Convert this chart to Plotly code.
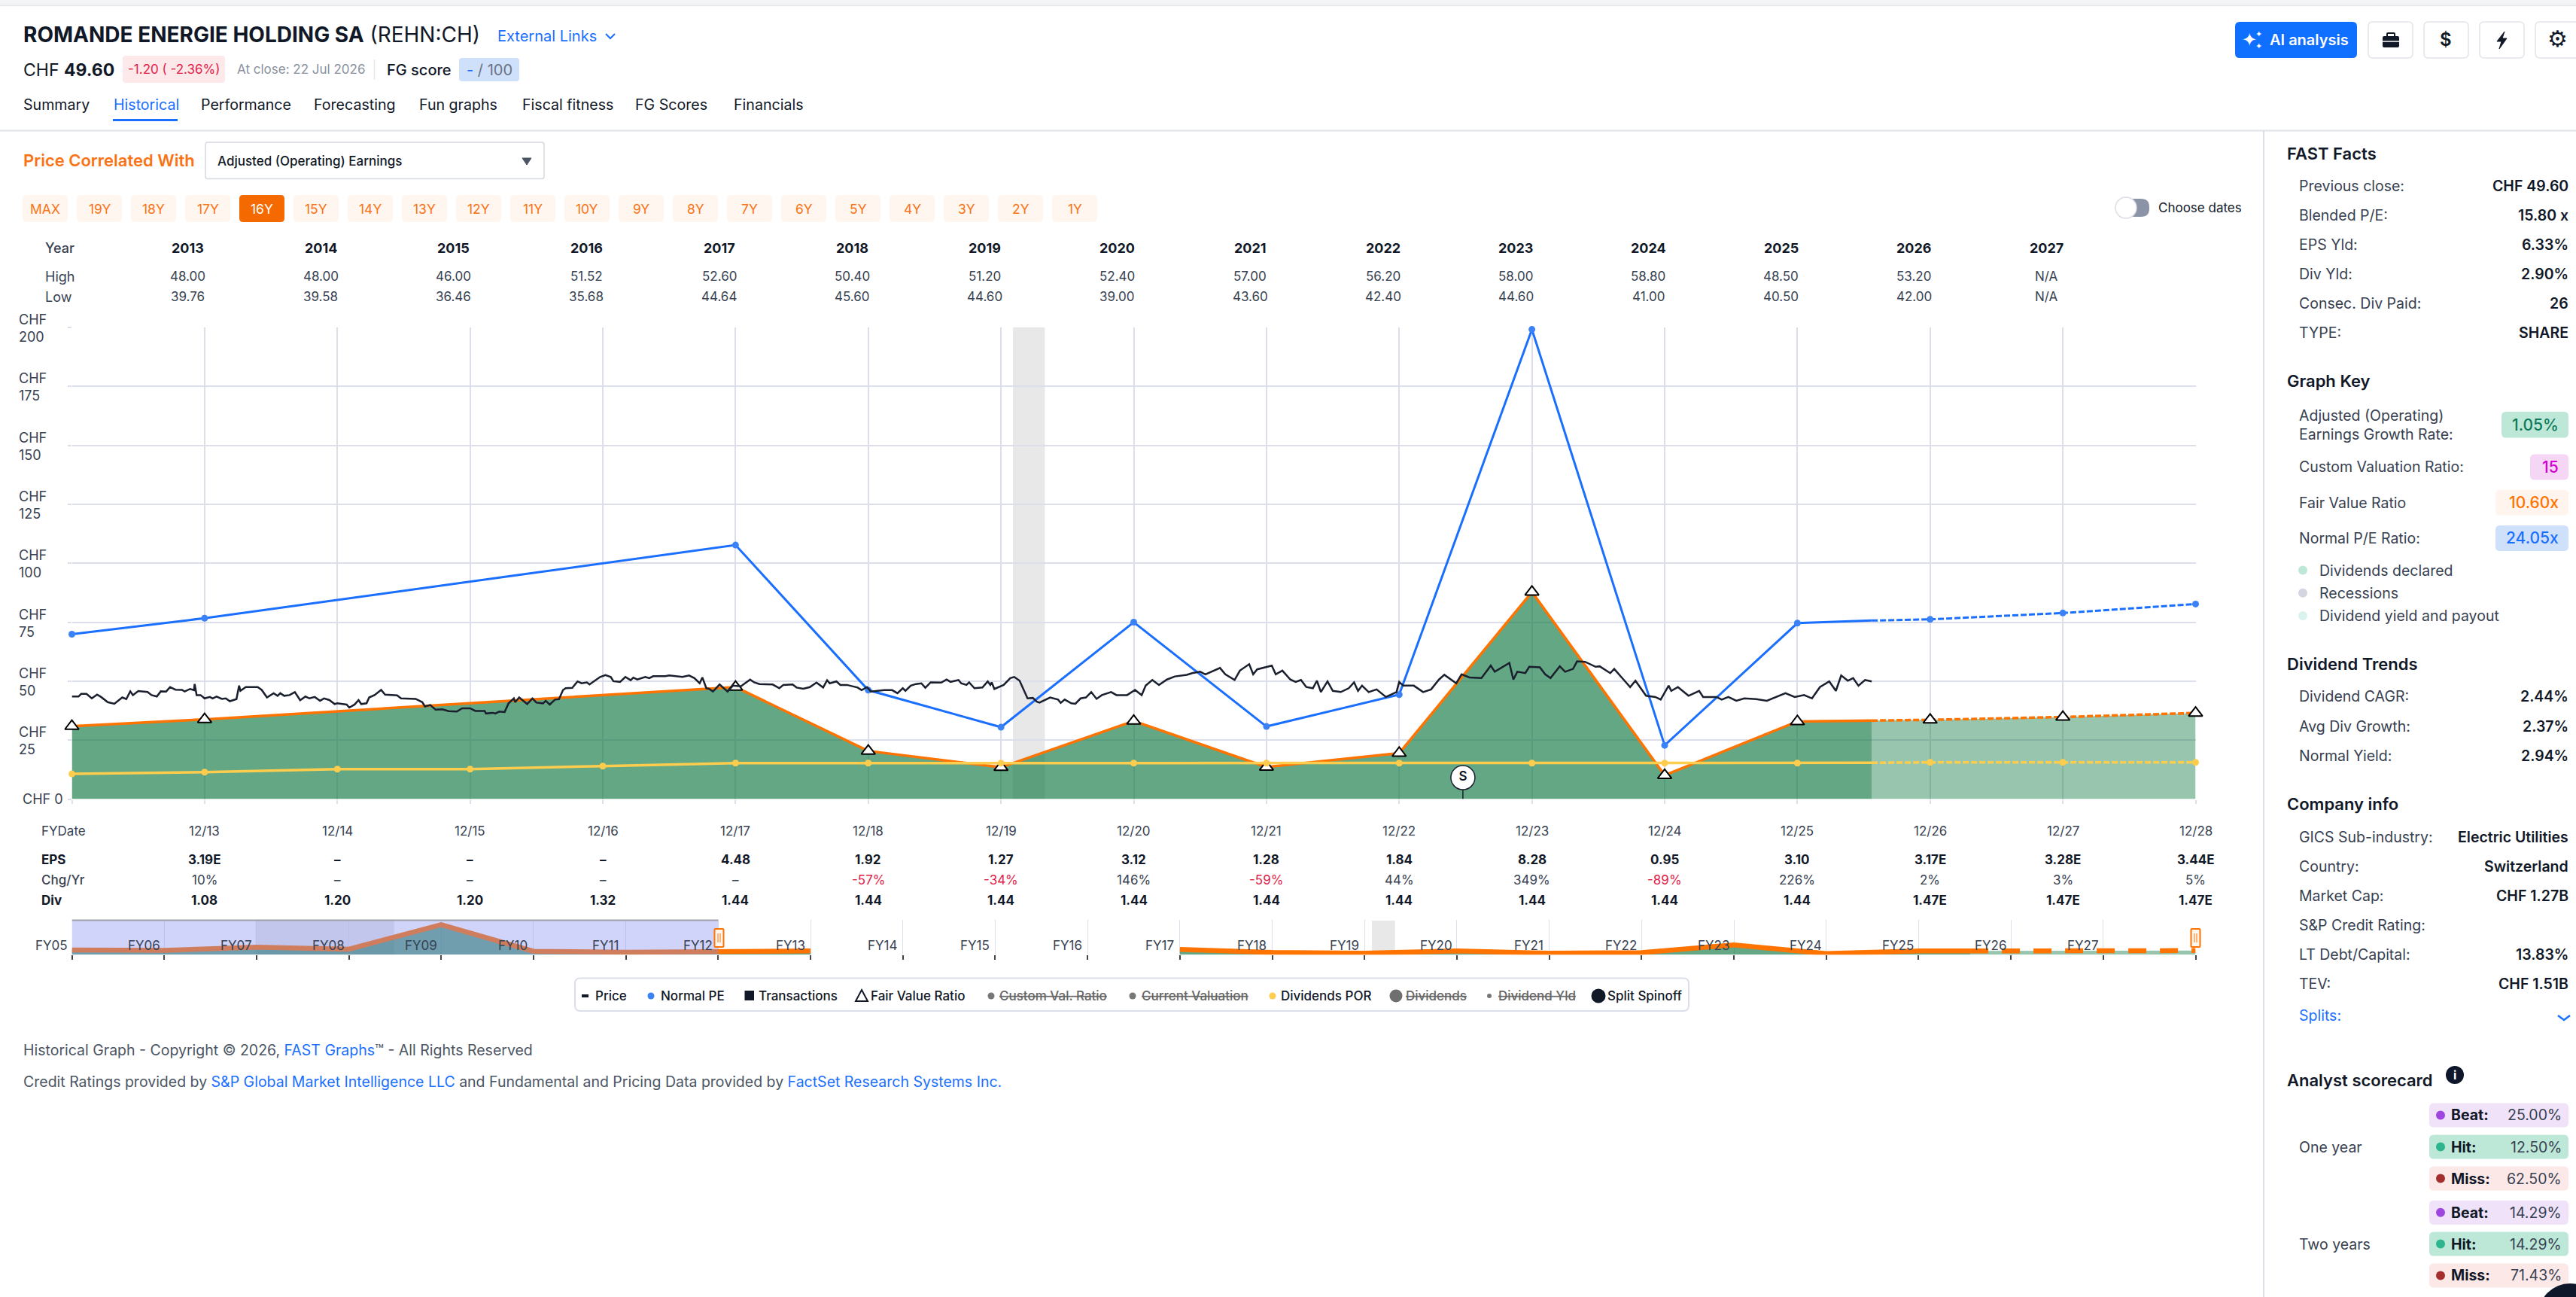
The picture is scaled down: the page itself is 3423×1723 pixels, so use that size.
"""
Recreates the Historical tab of the FAST Graphs page for Romande Energie.
One full page figure: the chart and navigator are real axes, the page
furniture around them is annotations and shapes placed in page pixels.
"""

import plotly.graph_objects as go

PAGE_W = 3423
PAGE_H = 1723

# dark text and accents
INK = "#111827"
BODY = "#374151"
MUTED = "#4b5563"
GRID = "#dcdfe9"
BLUE = "#1a6fff"
ORANGE = "#ff7300"
YELLOW = "#ffcd4d"
FONT = "Inter"

# year fractions: 2013.0 is the 12/12 fiscal year end, 2014.0 is 12/13 ...
fy_years = [2013, 2014, 2018, 2019, 2020, 2021, 2022, 2023, 2024, 2025, 2026]
fv_values = [30.9, 33.8, 47.5, 20.4, 13.5, 33.1, 13.6, 19.5, 87.8, 10.1, 32.9]
pe_values = [69.9, 76.7, 107.7, 46.2, 30.5, 75.0, 30.8, 44.3, 199.1, 22.8,
             74.6]

est_years = [2026.56, 2027, 2028, 2029]
fv_est_values = [33.3, 33.6, 34.8, 36.5]
pe_est_values = [75.7, 76.2, 78.9, 82.7]

div_years = [2013, 2014, 2015, 2016, 2017, 2018, 2019, 2020, 2021, 2022,
             2023, 2024, 2025, 2026]
div_values = [10.7, 11.45, 12.72, 12.72, 14.0, 15.26, 15.26, 15.26, 15.26,
              15.26, 15.26, 15.26, 15.26, 15.26]
div_est_values = [15.4, 15.6, 15.6, 15.6]

price_years = [
    2013.00, 2013.05, 2013.07, 2013.11, 2013.15, 2013.19, 2013.22, 2013.27, 2013.32, 2013.38,
    2013.41, 2013.44, 2013.46, 2013.50, 2013.57, 2013.60, 2013.64, 2013.67, 2013.71, 2013.74,
    2013.78, 2013.83, 2013.85, 2013.89, 2013.92, 2013.925, 2013.94, 2013.97, 2014.00, 2014.04,
    2014.06, 2014.09, 2014.13, 2014.16, 2014.19, 2014.24, 2014.26, 2014.27, 2014.31, 2014.40,
    2014.43, 2014.47, 2014.52, 2014.55, 2014.57, 2014.60, 2014.64, 2014.68, 2014.72, 2014.76,
    2014.79, 2014.83, 2014.87, 2014.90, 2014.94, 2014.98, 2015.00, 2015.07, 2015.09, 2015.13,
    2015.16, 2015.18, 2015.22, 2015.24, 2015.28, 2015.33, 2015.36, 2015.45, 2015.48, 2015.59,
    2015.64, 2015.66, 2015.70, 2015.74, 2015.79, 2015.84, 2015.90, 2015.94, 2016.00, 2016.04,
    2016.11, 2016.12, 2016.17, 2016.19, 2016.22, 2016.26, 2016.29, 2016.33, 2016.34, 2016.37,
    2016.43, 2016.47, 2016.50, 2016.55, 2016.57, 2016.60, 2016.64, 2016.67, 2016.70, 2016.72,
    2016.77, 2016.81, 2016.84, 2016.88, 2016.90, 2016.94, 2016.98, 2017.02, 2017.06, 2017.08,
    2017.13, 2017.17, 2017.21, 2017.23, 2017.26, 2017.32, 2017.35, 2017.38, 2017.47, 2017.50,
    2017.55, 2017.60, 2017.65, 2017.69, 2017.73, 2017.75, 2017.78, 2017.80, 2017.83, 2017.88,
    2017.94, 2017.98, 2018.04, 2018.11, 2018.14, 2018.18, 2018.28, 2018.33, 2018.36, 2018.43,
    2018.46, 2018.51, 2018.56, 2018.61, 2018.66, 2018.69, 2018.71, 2018.76, 2018.79, 2018.84,
    2018.92, 2018.95, 2018.99, 2019.02, 2019.12, 2019.18, 2019.22, 2019.26, 2019.28, 2019.32,
    2019.36, 2019.40, 2019.43, 2019.47, 2019.55, 2019.59, 2019.62, 2019.68, 2019.70, 2019.74,
    2019.76, 2019.80, 2019.86, 2019.90, 2019.92, 2019.93, 2019.95, 2020.02, 2020.07, 2020.10,
    2020.14, 2020.20, 2020.24, 2020.27, 2020.29, 2020.37, 2020.43, 2020.45, 2020.48, 2020.53,
    2020.56, 2020.60, 2020.64, 2020.68, 2020.72, 2020.76, 2020.83, 2020.87, 2020.95, 2021.01,
    2021.06, 2021.09, 2021.14, 2021.19, 2021.25, 2021.31, 2021.40, 2021.44, 2021.50, 2021.54,
    2021.65, 2021.69, 2021.76, 2021.80, 2021.87, 2021.90, 2021.93, 2022.04, 2022.07, 2022.12,
    2022.18, 2022.22, 2022.26, 2022.30, 2022.35, 2022.38, 2022.41, 2022.46, 2022.50, 2022.56,
    2022.62, 2022.66, 2022.69, 2022.72, 2022.77, 2022.83, 2022.90, 2022.98, 2023.00, 2023.03,
    2023.11, 2023.18, 2023.24, 2023.30, 2023.34, 2023.38, 2023.43, 2023.47, 2023.53, 2023.62,
    2023.69, 2023.72, 2023.83, 2023.86, 2023.89, 2023.95, 2023.98, 2024.06, 2024.10, 2024.14,
    2024.21, 2024.25, 2024.31, 2024.34, 2024.40, 2024.48, 2024.51, 2024.59, 2024.62, 2024.69,
    2024.74, 2024.78, 2024.86, 2024.93, 2024.97, 2025.03, 2025.05, 2025.10, 2025.18, 2025.26,
    2025.29, 2025.39, 2025.43, 2025.48, 2025.54, 2025.60, 2025.69, 2025.77, 2025.91, 2025.98,
    2026.05, 2026.11, 2026.17, 2026.24, 2026.29, 2026.33, 2026.38, 2026.42, 2026.46, 2026.51,
    2026.56,
]
price_values = [
    43.5, 43.5, 44.6, 44.6, 42.7, 44.3, 43.3, 41.1, 40.4, 43.1,
    42.4, 45.7, 44.1, 45.8, 45.4, 44.1, 43.5, 45.7, 45.6, 47.5,
    46.4, 46.3, 45.6, 46.7, 46.2, 48.8, 44.1, 44.1, 42.7, 43.3,
    42.7, 43.5, 42.5, 42.7, 41.5, 42.4, 48.1, 45.9, 47.5, 47.5,
    46.3, 43.1, 44.9, 43.8, 44.9, 43.8, 44.1, 45.4, 41.9, 43.5,
    42.7, 43.3, 41.7, 42.7, 42.0, 40.3, 40.6, 40.1, 38.8, 40.1,
    42.0, 40.3, 40.6, 43.1, 44.1, 46.3, 44.3, 44.0, 42.7, 42.5,
    41.1, 39.3, 39.9, 37.9, 38.1, 37.3, 37.1, 38.5, 38.5, 37.4,
    37.4, 36.3, 36.6, 36.3, 37.1, 36.9, 40.6, 42.7, 41.1, 43.1,
    40.3, 42.7, 40.9, 40.6, 41.7, 40.1, 42.2, 42.4, 46.2, 47.0,
    47.2, 49.9, 49.1, 49.5, 48.6, 50.2, 51.8, 52.6, 51.8, 50.0,
    49.7, 51.8, 50.4, 51.5, 50.7, 51.8, 51.3, 52.1, 52.1, 52.4,
    52.1, 51.8, 52.4, 51.3, 49.1, 51.6, 47.0, 46.8, 45.6, 48.6,
    45.6, 48.1, 47.8, 50.7, 49.5, 48.8, 48.6, 47.0, 48.4, 48.6,
    47.3, 46.8, 47.5, 49.4, 47.3, 50.4, 49.1, 49.9, 48.4, 48.4,
    47.3, 46.2, 47.5, 45.6, 46.2, 46.2, 44.9, 47.0, 45.9, 48.1,
    48.8, 49.1, 47.2, 49.5, 49.4, 50.7, 49.7, 50.5, 49.1, 48.4,
    49.5, 47.0, 47.3, 49.9, 48.4, 49.5, 46.7, 48.4, 51.3, 51.8,
    50.2, 42.7, 42.9, 41.3, 40.9, 43.1, 42.2, 40.8, 42.2, 40.6,
    40.4, 42.7, 43.1, 45.4, 42.5, 44.1, 45.4, 44.1, 44.1, 46.3,
    44.1, 48.1, 50.5, 48.4, 50.7, 52.0, 52.7, 53.4, 54.0, 52.9,
    55.6, 52.9, 50.5, 54.5, 57.2, 52.9, 55.0, 56.6, 52.9, 54.5,
    50.7, 49.7, 50.5, 47.5, 47.0, 50.2, 45.4, 49.9, 45.9, 45.4,
    47.0, 49.5, 45.9, 48.1, 45.4, 46.5, 43.3, 45.4, 49.7, 48.1,
    48.1, 45.4, 46.5, 50.7, 52.7, 51.0, 49.1, 52.9, 51.6, 51.3,
    56.6, 54.0, 57.7, 50.7, 54.0, 53.4, 56.1, 55.9, 52.9, 51.3,
    56.3, 54.0, 55.2, 58.4, 58.2, 56.1, 56.3, 53.4, 55.2, 50.7,
    47.5, 50.2, 43.8, 43.3, 42.2, 48.1, 45.9, 47.5, 43.8, 45.9,
    43.3, 43.3, 42.2, 43.3, 41.7, 42.7, 42.4, 41.7, 44.9, 43.3,
    44.1, 42.7, 47.5, 49.9, 45.9, 52.4, 50.2, 51.3, 48.1, 50.5,
    49.9,
]

recession_years = [2020.09, 2020.33]
split_year = 2023.48

# navigator, whole history, the line is broken between these two pieces
nav_early_years = [2006, 2007, 2008, 2009, 2010, 2011, 2012, 2013, 2014]
nav_early_values = [42, 38, 67, 49, 267, 31, 22, 31, 34]
nav_late_years = [2018, 2019, 2020, 2021, 2022, 2023, 2024, 2025, 2026,
                  2026.56]
nav_late_values = [47.5, 20.4, 13.5, 33.1, 13.6, 19.5, 87.8, 10.1, 32.9, 33.3]
nav_recession = [2007.99, 2009.49]
nav_window = [2006, 2013]
nav_labels = ["FY%02d" % i for i in range(5, 28)]

y_ticks = [25, 50, 75, 100, 125, 150, 175, 200]

table_years = ["2013", "2014", "2015", "2016", "2017", "2018", "2019", "2020",
               "2021", "2022", "2023", "2024", "2025", "2026", "2027"]
table_high = ["48.00", "48.00", "46.00", "51.52", "52.60", "50.40", "51.20",
              "52.40", "57.00", "56.20", "58.00", "58.80", "48.50", "53.20",
              "N/A"]
table_low = ["39.76", "39.58", "36.46", "35.68", "44.64", "45.60", "44.60",
             "39.00", "43.60", "42.40", "44.60", "41.00", "40.50", "42.00",
             "N/A"]

fy_labels = ["12/13", "12/14", "12/15", "12/16", "12/17", "12/18", "12/19",
             "12/20", "12/21", "12/22", "12/23", "12/24", "12/25", "12/26",
             "12/27", "12/28"]
eps_labels = ["3.19E", "–", "–", "–", "4.48", "1.92", "1.27", "3.12", "1.28",
              "1.84", "8.28", "0.95", "3.10", "3.17E", "3.28E", "3.44E"]
chg_labels = ["10%", "–", "–", "–", "–", "-57%", "-34%", "146%", "-59%",
              "44%", "349%", "-89%", "226%", "2%", "3%", "5%"]
div_labels = ["1.08", "1.20", "1.20", "1.32", "1.44", "1.44", "1.44", "1.44",
              "1.44", "1.44", "1.44", "1.44", "1.44", "1.47E", "1.47E",
              "1.47E"]

range_labels = ["MAX", "19Y", "18Y", "17Y", "16Y", "15Y", "14Y", "13Y", "12Y",
                "11Y", "10Y", "9Y", "8Y", "7Y", "6Y", "5Y", "4Y", "3Y", "2Y",
                "1Y"]
nav_tabs = ["Summary", "Historical", "Performance", "Forecasting",
            "Fun graphs", "Fiscal fitness", "FG Scores", "Financials"]

fact_names = ["Previous close:", "Blended P/E:", "EPS Yld:", "Div Yld:",
              "Consec. Div Paid:", "TYPE:"]
fact_values = ["CHF 49.60", "15.80 x", "6.33%", "2.90%", "26", "SHARE"]
trend_names = ["Dividend CAGR:", "Avg Div Growth:", "Normal Yield:"]
trend_values = ["2.44%", "2.37%", "2.94%"]
info_names = ["GICS Sub-industry:", "Country:", "Market Cap:",
              "S&P Credit Rating:", "LT Debt/Capital:", "TEV:"]
info_values = ["Electric Utilities", "Switzerland", "CHF 1.27B", "",
               "13.83%", "CHF 1.51B"]
score_names = ["Beat:", "Hit:", "Miss:", "Beat:", "Hit:", "Miss:"]
score_values = ["25.00%", "12.50%", "62.50%", "14.29%", "14.29%", "71.43%"]
key_dots = ["Dividends declared", "Recessions", "Dividend yield and payout"]

annotations = []
shapes = []


def fx(x):
    """Page pixel x to paper fraction."""
    return x / PAGE_W


def fy(y):
    """Page pixel y to paper fraction."""
    return 1 - y / PAGE_H


def label(left, top, text, size=18, color=BODY, weight=400, anchor="left",
          **kw):
    """Adds a text annotation at a page pixel position."""
    font = dict(family=FONT, size=size, color=color, weight=weight)
    font.update(kw.pop("font", {}))
    args = dict(xref="paper", yref="paper", x=fx(left), y=fy(top), text=text,
                font=font, xanchor=anchor, yanchor="middle", showarrow=False,
                borderpad=0)
    args.update(kw)
    annotations.append(args)


def box(x0, y0, x1, y1, fill, line=None, width=0, radius=0, layer="below"):
    """Adds a filled, optionally rounded rectangle in page pixels."""
    r = radius
    path = ("M %f %f L %f %f Q %f %f %f %f L %f %f Q %f %f %f %f "
            "L %f %f Q %f %f %f %f L %f %f Q %f %f %f %f Z" % (
                fx(x0 + r), fy(y0),
                fx(x1 - r), fy(y0), fx(x1), fy(y0), fx(x1), fy(y0 + r),
                fx(x1), fy(y1 - r), fx(x1), fy(y1), fx(x1 - r), fy(y1),
                fx(x0 + r), fy(y1), fx(x0), fy(y1), fx(x0), fy(y1 - r),
                fx(x0), fy(y0 + r), fx(x0), fy(y0), fx(x0 + r), fy(y0)))
    shapes.append(dict(type="path", xref="paper", yref="paper", path=path,
                       fillcolor=fill, layer=layer,
                       line=dict(color=line or fill, width=width)))


def dot(x, y, r, fill, line=None, width=0, layer="below"):
    """Adds a circle in page pixels."""
    shapes.append(dict(type="circle", xref="paper", yref="paper",
                       x0=fx(x - r), x1=fx(x + r), y0=fy(y - r), y1=fy(y + r),
                       fillcolor=fill, layer=layer,
                       line=dict(color=line or fill, width=width)))


def poly(points, fill=None, line=None, width=0, close=True):
    """Adds a polygon or polyline through page pixel points."""
    path = "M " + " L ".join("%f %f" % (fx(x), fy(y)) for x, y in points)
    if close:
        path += " Z"
    shapes.append(dict(type="path", xref="paper", yref="paper", path=path,
                       fillcolor=fill, layer="below",
                       line=dict(color=line or fill, width=width)))


def rule(x0, y0, x1, y1, color=GRID, width=2):
    """Adds a straight line in page pixels."""
    shapes.append(dict(type="line", xref="paper", yref="paper", x0=fx(x0),
                       x1=fx(x1), y0=fy(y0), y1=fy(y1), layer="below",
                       line=dict(color=color, width=width)))


def addHeader():
    """Title block, tabs and the toolbar buttons."""
    box(0, 0, PAGE_W, 7, "#f3f4f6")
    rule(0, 7.5, PAGE_W, 7.5, "#e5e7eb", 1.5)
    label(30, 46, "<b>ROMANDE ENERGIE HOLDING SA</b> (REHN:CH)", 28, INK)
    label(660, 48, "External Links", 20, BLUE)
    poly([(805, 45), (811, 51), (817, 45)], line=BLUE, width=2, close=False)

    label(30, 93, "CHF <b>49.60</b>", 23, INK)
    box(163, 74, 299, 110, "#fde8ea", radius=4)
    label(231, 92, "-1.20 ( -2.36%)", 17, "#e11d48", anchor="center")
    label(314, 92, "At close: 22 Jul 2026", 17, "#8a919e")
    rule(497.5, 79, 497.5, 106, "#e5e7eb", 1.5)
    label(513, 93, "FG score", 20, INK, 500)
    box(610, 77, 690, 108, "#cfe0fb", radius=4)
    label(650, 93, "<span style='color:%s'>-</span> / 100" % BLUE, 20,
          "#6b7280", anchor="center")

    tab_x = [30, 150, 266, 416, 556, 692.6, 843.4, 974]
    for x, name in zip(tab_x, nav_tabs):
        color = BLUE if name == "Historical" else INK
        label(x, 139, name, 19.6, color)
    box(150, 158, 236, 161, BLUE)
    rule(0, 173.5, PAGE_W, 173.5, "#e0e2ea", 2)

    box(2970, 29, 3132, 77, "#0f6fff", radius=6)
    label(2989, 53, "✦", 24, "#ffffff", anchor="center",
          font=dict(family="DejaVu Sans"))
    label(3001, 45, "✦", 11, "#ffffff", anchor="center",
          font=dict(family="DejaVu Sans"))
    label(3001, 61, "✦", 11, "#ffffff", anchor="center",
          font=dict(family="DejaVu Sans"))
    label(3015, 53, "AI analysis", 20, "#ffffff", 600)
    for x0, x1 in [(3147, 3206), (3221, 3280), (3295, 3354), (3369, 3428)]:
        box(x0, 29, x1, 77, "#ffffff", "#e2e4ea", 1.5, radius=6)
    box(3166, 48, 3188, 63, INK, radius=2)
    box(3172, 44, 3182, 49, "#ffffff", INK, 2, radius=1)
    rule(3166, 55, 3188, 55, "#ffffff", 1.5)
    label(3250, 53, "$", 24, INK, 600, anchor="center")
    poly([(3328, 42), (3318, 55), (3324, 55), (3321, 65), (3331, 51),
          (3325, 51)], fill=INK, line=INK, width=1)
    label(3398, 52, "⚙", 30, INK, anchor="center",
          font=dict(family="DejaVu Sans"))


def addControls():
    """Correlation selector, range buttons and the date toggle."""
    label(30, 213, "Price Correlated With", 22, "#f97316", 600)
    box(273, 189, 723, 237.5, "#ffffff", "#d7d9e0", 1.5, radius=3)
    label(288, 214, "Adjusted (Operating) Earnings", 17, INK, 500)
    poly([(694, 210), (706, 210), (700, 219)], fill=MUTED, line=MUTED, width=1)

    for i, name in enumerate(range_labels):
        x = 60 + 72 * i
        active = name == "16Y"
        box(x - 30, 259, x + 30, 295, "#f56a00" if active else "#fff6ef",
            radius=5)
        label(x, 277, name, 17.5, "#ffffff" if active else "#f97316",
              anchor="center")

    box(2823, 264, 2856, 288, "#8b93a7", radius=11)
    dot(2825, 276, 14, "#ffffff", "#dcdee4", 1.5)
    label(2867, 276, "Choose dates", 17, INK)


def addPriceTable():
    """Year, high and low rows above the chart."""
    label(59, 329, "Year", 18, BODY, 500)
    label(59, 367, "High", 18, BODY)
    label(59, 394, "Low", 18, BODY)
    for i, year in enumerate(table_years):
        x = 250 + 176.4 * i
        label(x, 329, year, 18, INK, 700, anchor="center")
        label(x, 367, table_high[i], 17, BODY, anchor="center")
        label(x, 394, table_low[i], 17, BODY, anchor="center")


def addFundamentals():
    """FY date, EPS, change and dividend rows under the chart."""
    label(53.5, 1104, "FYDate", 17, BODY)
    label(53.5, 1141.7, "EPS", 17, INK, 700)
    label(53.5, 1169, "Chg/Yr", 17, BODY, 500)
    label(53.5, 1195.7, "Div", 17, INK, 700)
    for i, name in enumerate(fy_labels):
        chg = chg_labels[i]
        rows = [(1104, name, BODY, 400),
                (1141.7, eps_labels[i], INK, 700),
                (1169, chg, "#e11d48" if chg.startswith("-") else BODY, 400),
                (1195.7, div_labels[i], INK, 700)]
        for y, text, color, weight in rows:
            label(0, y, text, 17, color, weight, anchor="center",
                  xref="x", x=2014 + i)


def addYLabels():
    """Two line CHF labels beside the horizontal gridlines."""
    for tick in y_ticks:
        annotations.append(dict(
            xref="paper", yref="y", x=fx(24), y=tick, yshift=-1,
            text="CHF<br>%d" % tick, showarrow=False, align="left",
            xanchor="left", yanchor="middle", borderpad=0,
            font=dict(family=FONT, size=18, color=BODY)))
    annotations.append(dict(
        xref="paper", yref="y", x=fx(29), y=0, text="CHF 0", showarrow=False,
        xanchor="left", yanchor="middle", borderpad=0,
        font=dict(family=FONT, size=18, color=BODY)))


def addNavigatorDecor():
    """Navigator labels, recession bands, window mask and handles."""
    for i, name in enumerate(nav_labels):
        annotations.append(dict(
            xref="x2", yref="paper", x=2006 + i, y=fy(1256), xshift=-27,
            text=name, showarrow=False, borderpad=0, yanchor="middle",
            font=dict(family=FONT, size=17, color=BODY)))
    for x0, x1 in [nav_recession, [2020.08, 2020.33]]:
        shapes.append(dict(type="rect", xref="x2", yref="paper", x0=x0, x1=x1,
                           y0=fy(1268), y1=fy(1223), layer="below",
                           fillcolor="rgba(128,128,128,0.18)",
                           line=dict(width=0)))
    shapes.append(dict(type="rect", xref="x2", yref="paper", x0=nav_window[0],
                       x1=nav_window[1], y0=fy(1268), y1=fy(1223),
                       layer="above", fillcolor="rgba(133,143,245,0.384)",
                       line=dict(width=0)))
    shapes.append(dict(type="line", xref="x2", yref="paper", x0=nav_window[0],
                       x1=nav_window[1], y0=fy(1222.5), y1=fy(1222.5),
                       layer="above", line=dict(color="#a0a0a8", width=2)))
    for x in [955.5, 2917.5]:
        box(x - 6, 1234, x + 6, 1258, "#fff6ef", ORANGE, 2, radius=1,
            layer="above")
        for dx in [-1.5, 1.5]:
            shapes.append(dict(type="line", xref="paper", yref="paper",
                               x0=fx(x + dx), x1=fx(x + dx), y0=fy(1240),
                               y1=fy(1252), layer="above",
                               line=dict(color=ORANGE, width=1)))


def addLegend():
    """The series legend box, struck through names are switched off."""
    box(764, 1299.5, 2244, 1343, "#ffffff", GRID, 2, radius=7)
    y = 1323
    items = [(789.5, "Price", False), (876.5, "Normal PE", False),
             (1006.5, "Transactions", False), (1156, "Fair Value Ratio", False),
             (1327, "Custom Val. Ratio", True),
             (1516, "Current Valuation", True),
             (1701, "Dividends POR", False), (1866.5, "Dividends", True),
             (1990, "Dividend Yld", True), (2135, "Split Spinoff", False)]
    for x, name, off in items:
        kw = {"font": dict(lineposition="through")} if off else {}
        label(x, y, name, 17, "#666666" if off else INK, 500, **kw)
    box(773, y - 2, 782, y + 2, INK)
    dot(865, y, 4.5, "#3b82f6")
    box(989.5, y - 7, 1002, y + 6, INK)
    poly([(1145, y - 8), (1153, y + 7), (1137, y + 7)], fill="#ffffff",
         line=INK, width=2)
    dot(1317, y, 4.5, "#777777")
    dot(1505, y, 4.5, "#777777")
    dot(1691, y, 4.5, YELLOW)
    dot(1855, y, 8.5, "#6f6f6f")
    dot(1979, y, 3, "#777777")
    dot(2124, y, 9.5, "#111827")


def addFooter():
    """Copyright and credit lines."""
    link = "<span style='color:%s'>%%s</span>" % BLUE
    label(30, 1395, "Historical Graph - Copyright © 2026, " +
          link % "FAST Graphs" + "™ - All Rights Reserved", 19.5, MUTED)
    label(30, 1437, "Credit Ratings provided by " +
          link % "S&amp;P Global Market Intelligence LLC" +
          " and Fundamental and Pricing Data provided by " +
          link % "FactSet Research Systems Inc.", 19.5, MUTED)


def addRows(names, values, y0):
    """Label and right aligned value rows of the side panel."""
    for i, name in enumerate(names):
        y = y0 + 39 * i
        label(3053.5, y, name, 19.5, BODY)
        if values[i]:
            label(3414, y, values[i], 19.5, INK, 600, anchor="right")


def addSidePanel():
    """Everything right of the divider."""
    rule(3008, 173.5, 3008, PAGE_H, GRID, 2)

    label(3038, 203.5, "FAST Facts", 22, INK, 600)
    addRows(fact_names, fact_values, 247.4)

    label(3038, 506.3, "Graph Key", 22, INK, 600)
    label(3053.5, 564, "Adjusted (Operating)<br>Earnings Growth Rate:", 19.5,
          BODY, align="left")
    badges = [(620.4, 3362, "#f5d6f5", "#d100d1", "15",
               "Custom Valuation Ratio:"),
              (667.6, 3316, "#fff5ee", ORANGE, "10.60x", "Fair Value Ratio"),
              (714.9, 3316, "#cfe0fb", BLUE, "24.05x", "Normal P/E Ratio:")]
    box(3324, 547, 3413, 581.5, "#bde8d8", radius=6)
    label(3401, 564, "1.05%", 21, "#0d7a5a", 500, anchor="right")
    for y, x0, fill, color, text, name in badges:
        box(x0, y - 17, 3413, y + 17, fill, radius=6)
        label(3401, y, text, 21, color, 500, anchor="right")
        label(3053.5, y, name, 19.5, BODY)
    colors = ["#bde8d8", "#d3d5e0", "#d9f2ee"]
    for i, name in enumerate(key_dots):
        y = 757.5 + 30.2 * i
        dot(3060, y, 6, colors[i])
        label(3081, y, name, 19.5, BODY)

    label(3038, 881.5, "Dividend Trends", 22, INK, 600)
    addRows(trend_names, trend_values, 925.5)

    label(3038, 1067.5, "Company info", 22, INK, 600)
    addRows(info_names, info_values, 1111.5)
    label(3053.5, 1348.7, "Splits:", 19.5, BLUE)
    poly([(3399, 1349), (3407, 1355), (3415, 1349)], line=BLUE, width=2.5,
         close=False)

    label(3038, 1434.6, "Analyst scorecard", 22, INK, 600)
    dot(3262, 1428, 12, "#0f172a")
    label(3262, 1428, "i", 16, "#ffffff", 700, anchor="center")

    label(3053.5, 1523.7, "One year", 19.5, BODY)
    label(3053.5, 1652.5, "Two years", 19.5, BODY)
    fills = {"Beat:": "#efe2f9", "Hit:": "#bde8d8", "Miss:": "#fde8e8"}
    dots = {"Beat:": "#9f46e0", "Hit:": "#2fb58d", "Miss:": "#a52f2f"}
    tops = [1465.4, 1507.5, 1549.6, 1594.7, 1636.6, 1678.4]
    for top, name, value in zip(tops, score_names, score_values):
        box(3228, top, 3413, top + 32, fills[name], radius=6)
        dot(3243, top + 16, 6, dots[name])
        label(3256, top + 16, name, 19.5, INK, 700)
        label(3405, top + 16, value, 19.5, BODY, anchor="right")
    dot(3415, 1747, 42, "#0f172a", layer="above")


def getMainTraces():
    """Traces of the main chart, later ones are drawn on top."""
    solid = dict(shape="linear", width=3)
    dash = dict(shape="linear", width=3, dash="8px,3px")
    mark = dict(size=9, color="#3b82f6")
    traces = [
        go.Scatter(x=fy_years + est_years[:1],
                   y=fv_values + fv_est_values[:1], mode="lines",
                   fill="tozeroy", fillcolor="rgba(20,122,69,0.66)",
                   line=dict(solid, color=ORANGE, width=3.5)),
        go.Scatter(x=est_years, y=fv_est_values, mode="lines", fill="tozeroy",
                   fillcolor="rgba(20,122,69,0.44)",
                   line=dict(dash, color=ORANGE, width=3.5)),
        go.Scatter(x=fy_years + est_years[:1],
                   y=pe_values + pe_est_values[:1], mode="lines",
                   line=dict(solid, color=BLUE)),
        go.Scatter(x=est_years, y=pe_est_values, mode="lines",
                   line=dict(dash, color=BLUE)),
        go.Scatter(x=fy_years + est_years[1:],
                   y=pe_values + pe_est_values[1:], mode="markers",
                   marker=mark),
        go.Scatter(x=fy_years + est_years[1:],
                   y=fv_values + fv_est_values[1:], mode="markers",
                   marker=dict(symbol="triangle-up", size=16, color="#ffffff",
                               line=dict(color="#000000", width=2))),
        go.Scatter(x=div_years + est_years[:1],
                   y=div_values + div_est_values[:1], mode="lines",
                   line=dict(solid, color=YELLOW, width=3.5)),
        go.Scatter(x=est_years, y=div_est_values, mode="lines",
                   line=dict(dash, color=YELLOW, width=3.5)),
        go.Scatter(x=div_years + est_years[1:],
                   y=div_values + div_est_values[1:], mode="markers",
                   marker=dict(size=9, color=YELLOW)),
        go.Scatter(x=price_years, y=price_values, mode="lines",
                   line=dict(color="#1a1f2e", width=2.5)),
        go.Scatter(x=[split_year, split_year], y=[0, 4], mode="lines",
                   line=dict(color="#1a1f2e", width=1.5)),
        go.Scatter(x=[split_year], y=[9.1], mode="markers+text", text=["S"],
                   textposition="middle center",
                   textfont=dict(family=FONT, size=17, color=INK, weight=600),
                   marker=dict(size=32, color="#ffffff",
                               line=dict(color="#1a1f2e", width=1.5))),
    ]
    for trace in traces:
        trace.update(xaxis="x", yaxis="y", cliponaxis=False, hoverinfo="skip",
                     showlegend=False)
    return traces


def getNavTraces():
    """Traces of the small navigator chart."""
    thick = dict(color=ORANGE, width=6.5)
    dark = "rgba(20,122,69,0.66)"
    traces = [
        go.Scatter(x=nav_early_years, y=nav_early_values, mode="lines",
                   fill="tozeroy", fillcolor=dark, line=thick),
        go.Scatter(x=nav_late_years, y=nav_late_values, mode="lines",
                   fill="tozeroy", fillcolor=dark, line=thick),
        go.Scatter(x=est_years, y=fv_est_values, mode="lines", fill="tozeroy",
                   fillcolor="rgba(20,122,69,0.44)",
                   line=dict(thick, dash="24px,18px")),
    ]
    for trace in traces:
        trace.update(xaxis="x2", yaxis="y2", hoverinfo="skip",
                     showlegend=False)
    return traces


def main():
    addHeader()
    addControls()
    addPriceTable()
    addFundamentals()
    addYLabels()
    addNavigatorDecor()
    addLegend()
    addFooter()
    addSidePanel()
    shapes.append(dict(type="rect", xref="x", yref="y", x0=recession_years[0],
                       x1=recession_years[1], y0=0, y1=200, layer="below",
                       fillcolor="rgba(128,128,128,0.18)", line=dict(width=0)))

    fig = go.Figure(data=getMainTraces() + getNavTraces())
    axis = dict(showticklabels=False, showline=False, zeroline=False,
                showgrid=True, gridcolor=GRID, ticks="outside", ticklen=5,
                tickcolor=GRID)
    fig.update_layout(
        width=PAGE_W, height=PAGE_H, autosize=False,
        margin=dict(l=0, r=0, t=0, b=0), paper_bgcolor="#ffffff",
        plot_bgcolor="rgba(0,0,0,0)", showlegend=False,
        font=dict(family=FONT),
        xaxis=dict(axis, domain=[fx(95.5), fx(2917.5)], range=[2013, 2029],
                   tickvals=list(range(2013, 2030)), gridwidth=1.5,
                   tickwidth=1.5),
        yaxis=dict(axis, domain=[fy(1061.6), fy(434.8)], range=[0, 200],
                   tickvals=[0] + y_ticks, gridwidth=2, tickwidth=2),
        xaxis2=dict(axis, anchor="y2", domain=[fx(95.5), fx(2917.5)],
                    range=[2006, 2029], tickvals=list(range(2006, 2030)),
                    gridwidth=1, tickcolor="#444444", ticklen=6, tickwidth=1.5),
        yaxis2=dict(axis, anchor="x2", domain=[fy(1268.3), fy(1222)],
                    range=[0, 309], showgrid=False, ticks=""),
        annotations=annotations, shapes=shapes)
    fig.write_html("out.html", config={"displayModeBar": False},
                   post_script="document.body.style.margin='0';"
                               "document.body.style.overflow='hidden';")


if __name__ == '__main__':
    main()
